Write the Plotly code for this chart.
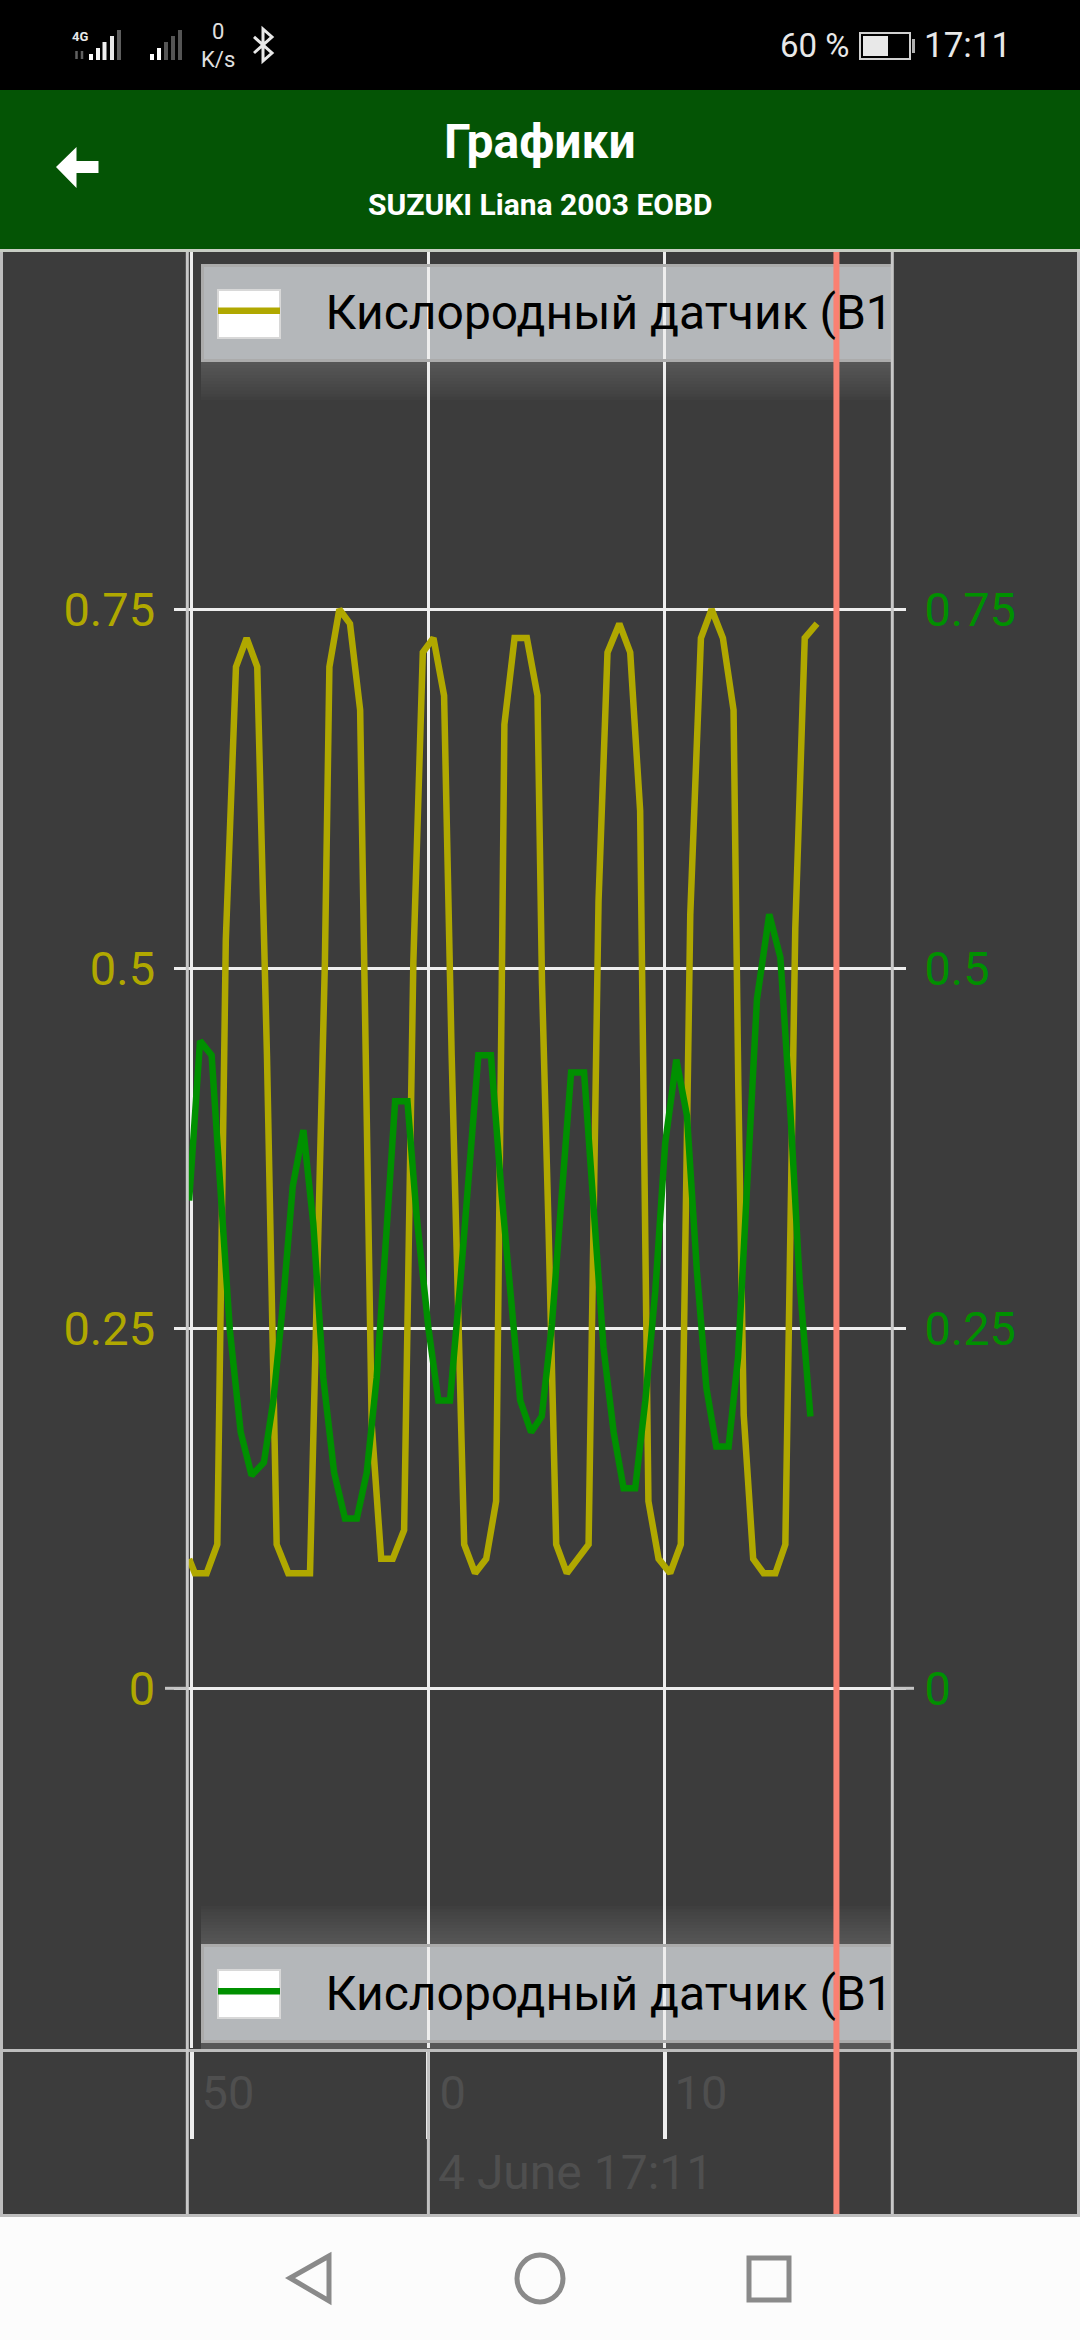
import plotly.graph_objects as go

# Data
series_name = "Кислородный датчик (B1"
yellow_t = [-10.12,-9.88,-9.38,-8.93,-8.57,-8.14,-7.69,-7.24,-6.83,-6.42,-5.93,-5.01,-4.38,-4.19,-3.77,-3.32,-2.89,-2.64,-2.40,-2.0,-1.51,-1.03,-0.64,-0.24,0.21,0.66,0.98,1.51,1.97,2.44,2.86,3.10,3.21,3.64,4.16,4.61,4.80,5.08,5.40,5.85,6.77,7.19,7.57,8.07,8.53,8.95,9.30,9.73,10.22,10.67,11.07,11.52,11.97,12.45,12.9,13.1,13.33,13.73,14.17,14.67,15.09,15.51,15.91,16.43]
yellow_v = [0.09,0.08,0.08,0.10,0.52,0.71,0.73,0.71,0.44,0.10,0.08,0.08,0.505,0.71,0.75,0.74,0.68,0.40,0.183,0.09,0.09,0.11,0.505,0.72,0.73,0.69,0.44,0.10,0.08,0.09,0.13,0.49,0.67,0.73,0.73,0.69,0.49,0.318,0.10,0.08,0.10,0.547,0.72,0.74,0.72,0.61,0.13,0.09,0.08,0.10,0.538,0.73,0.75,0.73,0.68,0.42,0.19,0.09,0.08,0.08,0.10,0.528,0.73,0.74]
green_t = [-10.12,-9.66,-9.17,-8.78,-8.40,-7.94,-7.48,-6.96,-6.56,-6.14,-5.74,-5.29,-4.87,-4.45,-3.99,-3.53,-3.03,-2.61,-2.19,-1.79,-1.41,-0.89,-0.50,0.0,0.42,0.91,1.34,2.11,2.64,3.10,3.52,3.88,4.34,4.79,5.22,5.60,6.03,6.58,7.01,7.40,7.83,8.25,8.74,9.17,9.59,10.01,10.48,10.93,11.35,11.75,12.17,12.69,13.09,13.47,13.89,14.41,14.88,15.3,15.7,16.15]
green_v = [0.339,0.45,0.44,0.342,0.249,0.178,0.148,0.157,0.20,0.27,0.349,0.388,0.323,0.216,0.15,0.118,0.118,0.15,0.216,0.314,0.408,0.408,0.328,0.25,0.20,0.20,0.281,0.44,0.44,0.342,0.265,0.20,0.178,0.189,0.253,0.342,0.428,0.428,0.328,0.237,0.178,0.139,0.139,0.20,0.276,0.379,0.437,0.398,0.29,0.209,0.168,0.168,0.23,0.342,0.479,0.538,0.508,0.402,0.281,0.189]
y_ticks = [0, 0.25, 0.5, 0.75]
y_labels = ["0", "0.25", "0.5", "0.75"]
x_ticks = [-10, 0, 10]
x_labels = ["50", "0\u00a0\u00a0", "10"]
cursor_t = 17.25

W, H = 1080, 2340
YELLOW, GREEN, BG = "#B0A800", "#009000", "#3C3C3C"
FONT = "Roboto"
def px(x): return x / W
def py(y): return 1 - y / H

fig = go.Figure()
PAD = "\u00a0\u00a0\u00a0\u200a"
fig.add_trace(go.Scatter(x=yellow_t, y=yellow_v, mode="lines", name=PAD + series_name,
                         line=dict(color=YELLOW, width=6.5), yaxis="y", legend="legend", hoverinfo="skip"))
fig.add_trace(go.Scatter(x=green_t, y=green_v, mode="lines", name=PAD + series_name,
                         line=dict(color=GREEN, width=6.5), yaxis="y2", legend="legend2", hoverinfo="skip"))

shapes = []
def rect(x0, y0, x1, y1, fill, layer="above", line=None, lw=0):
    shapes.append(dict(type="rect", xref="paper", yref="paper", x0=px(x0), x1=px(x1), y0=py(y0), y1=py(y1),
                       fillcolor=fill, line=dict(color=line or fill, width=lw), layer=layer))
def seg(x0, y0, x1, y1, color, w, layer="above"):
    shapes.append(dict(type="line", xref="paper", yref="paper", x0=px(x0), x1=px(x1), y0=py(y0), y1=py(y1),
                       line=dict(color=color, width=w), layer=layer))
def poly(points, fill=None, line=None, lw=0, close=True):
    d = "M" + " L".join(f"{px(a):.5f},{py(b):.5f}" for a, b in points) + (" Z" if close else "")
    shapes.append(dict(type="path", xref="paper", yref="paper", path=d, fillcolor=fill or "rgba(0,0,0,0)",
                       line=dict(color=line or "rgba(0,0,0,0)", width=lw), layer="above"))

# legend panels, drawn below the grid so the grid shows over them
for y0, y1, sy0, sy1 in [(264, 362, 362, 400), (1944, 2043, 1906, 1944)]:
    steps = 12
    for i in range(steps):
        if sy0 == y1:
            a, b = sy0, sy0 + (sy1 - sy0) * (steps - i) / steps
        else:
            a, b = sy1 - (sy1 - sy0) * (steps - i) / steps, sy1
        rect(201, a, 892, b, "rgba(255,255,255,0.014)", layer="below")
    rect(201, y0, 892, y1, "#B4B7BA", layer="below")
    rect(218, y0 + 26, 280, y0 + 74, "#FFFFFF", layer="below", line="#D8D8D8", lw=2)
    rect(201, y0, 892, y0 + 3, "#ABABAB")
    rect(201, y1 - 3, 892, y1, "#ABABAB")
    rect(201, y0, 204, y1, "#ABABAB")
rect(201, 2043, 892, 2050, "#585858", layer="below")

# frame and separators
seg(1.5, 252, 1.5, 2214, "#BDBDBD", 3)
seg(1078.5, 252, 1078.5, 2214, "#BDBDBD", 3)
seg(0, 2050.5, W, 2050.5, "#BDBDBD", 3)
seg(187.3, 252, 187.3, 2214, "#C8C8C8", 3)
seg(428.4, 2052, 428.4, 2214, "#C0C0C0", 3)
seg(892.3, 252, 892.3, 2214, "#C8C8C8", 3)
for x0, x1 in [(165, 187), (892, 914)]:
    shapes.append(dict(type="line", xref="paper", yref="y", x0=px(x0), x1=px(x1), y0=0, y1=0,
                       line=dict(color="#C4C4C4", width=3), layer="above"))
shapes.append(dict(type="line", xref="x", yref="paper", x0=cursor_t, x1=cursor_t, y0=py(2214), y1=py(252),
                   line=dict(color="#FA8072", width=6), layer="above"))

# phone chrome
rect(0, 0, W, 90, "#000000")
rect(0, 90, W, 249, "#045405")
rect(0, 249, W, 252, "#C8CEC4")
rect(0, 2214, W, 2217, "#BDBDBD")
rect(0, 2217, W, H, "#FCFCFC")
poly([(56, 167), (76.5, 147), (76.5, 161), (98.5, 161), (98.5, 173), (76.5, 173), (76.5, 188)], fill="#FFFFFF")
for i, (x, top) in enumerate([(91, 54), (98, 48), (104.5, 42), (112, 36), (119, 30)]):
    seg(x, 60, x, top, ["#FFFFFF", "#F4F4F4", "#F0F0F0", "#E8E8E8", "#5E5E5E"][i], 4)
for i, (x, top) in enumerate([(152, 54), (159, 48), (166, 42), (173, 36), (180, 30)]):
    seg(x, 60, x, top, "#FFFFFF" if i < 2 else "#555555", 4)
seg(76.5, 51, 76.5, 59, "#606060", 2.5)
seg(82, 51, 82, 59, "#606060", 2.5)
poly([(254, 37), (272, 53), (263, 61), (263, 29), (272, 37), (254, 53)], line="#E8E8E8", lw=3, close=False)
rect(860, 33, 910, 59, "rgba(0,0,0,0)", line="#D0D0D0", lw=2)
rect(863, 36, 888, 56, "#E8E8E8")
rect(912, 39, 915, 53, "#B0B0B0")
poly([(329, 2256), (290, 2278), (329, 2301)], line="#8A8A8A", lw=5)
shapes.append(dict(type="circle", xref="paper", yref="paper", x0=px(517), x1=px(563), y0=py(2302), y1=py(2255),
                   line=dict(color="#8A8A8A", width=5), layer="above"))
rect(749, 2258, 789, 2300, "rgba(0,0,0,0)", line="#8A8A8A", lw=5)

def note(x, y, text, size, color, bold=False, anchor="center"):
    return dict(xref="paper", yref="paper", x=px(x), y=py(y), text=f"<b>{text}</b>" if bold else text,
                showarrow=False, xanchor=anchor, yanchor="middle",
                font=dict(family=FONT, size=size, color=color))

annotations = [
    note(540, 141, "Графики", 48, "#FFFFFF", True),
    note(540, 204, "SUZUKI Liana 2003 EOBD", 30, "#FFFFFF", True),
    note(575, 2172, "4 June 17:11", 48, "#4F4F4F"),
    note(814, 45, "60 %", 33, "#E8E8E8"),
    note(967, 45, "17:11", 35, "#E8E8E8"),
    note(218, 32, "0", 22, "#E0E0E0"),
    note(218, 59, "K/s", 22, "#E0E0E0"),
    note(80, 37, "4G", 13, "#E8E8E8", True),
]

legend_common = dict(xref="paper", yref="paper", xanchor="left", yanchor="middle", x=px(213),
                     bgcolor="rgba(0,0,0,0)", borderwidth=0, itemwidth=62, itemclick=False, itemdoubleclick=False,
                     font=dict(family=FONT, size=48, color="#000000"))

axis_common = dict(range=[-0.25, 1.0], tickmode="array", tickvals=y_ticks, ticktext=y_labels,
                   ticks="outside", ticklen=13, tickwidth=3, tickcolor="#EEEEEE", showline=False, zeroline=False,
                   ticklabelstandoff=9)

fig.update_layout(
    width=W, height=H, margin=dict(l=0, r=0, t=0, b=0), autosize=False,
    paper_bgcolor=BG, plot_bgcolor=BG, showlegend=True, font=dict(family=FONT),
    xaxis=dict(domain=[px(187.5), px(892)], range=[-10.19, 19.6], tickmode="array", tickvals=x_ticks,
               ticktext=x_labels, ticks="outside", ticklen=90, tickwidth=3.5, tickcolor="#EEEEEE",
               showgrid=True, gridcolor="#EEEEEE", gridwidth=2.5, zeroline=False, showline=False,
               ticklabelshift=36, ticklabelstandoff=-86, anchor="y",
               tickfont=dict(family=FONT, size=47, color="#4F4F4F")),
    yaxis=dict(domain=[py(2048), py(249.6)], side="left", anchor="x", showgrid=True, gridcolor="#EEEEEE", gridwidth=3,
               tickfont=dict(family=FONT, size=47, color=YELLOW), **axis_common),
    yaxis2=dict(domain=[py(2048), py(249.6)], side="right", anchor="x", overlaying="y", showgrid=False,
                tickfont=dict(family=FONT, size=47, color=GREEN), **axis_common),
    legend=dict(y=py(311), **legend_common),
    legend2=dict(y=py(1991.5), **legend_common),
    shapes=shapes, annotations=annotations,
)

fig.write_html("out.html", post_script="document.body.style.margin='0';document.body.style.background='#3C3C3C';",
               config={"displayModeBar": False})
